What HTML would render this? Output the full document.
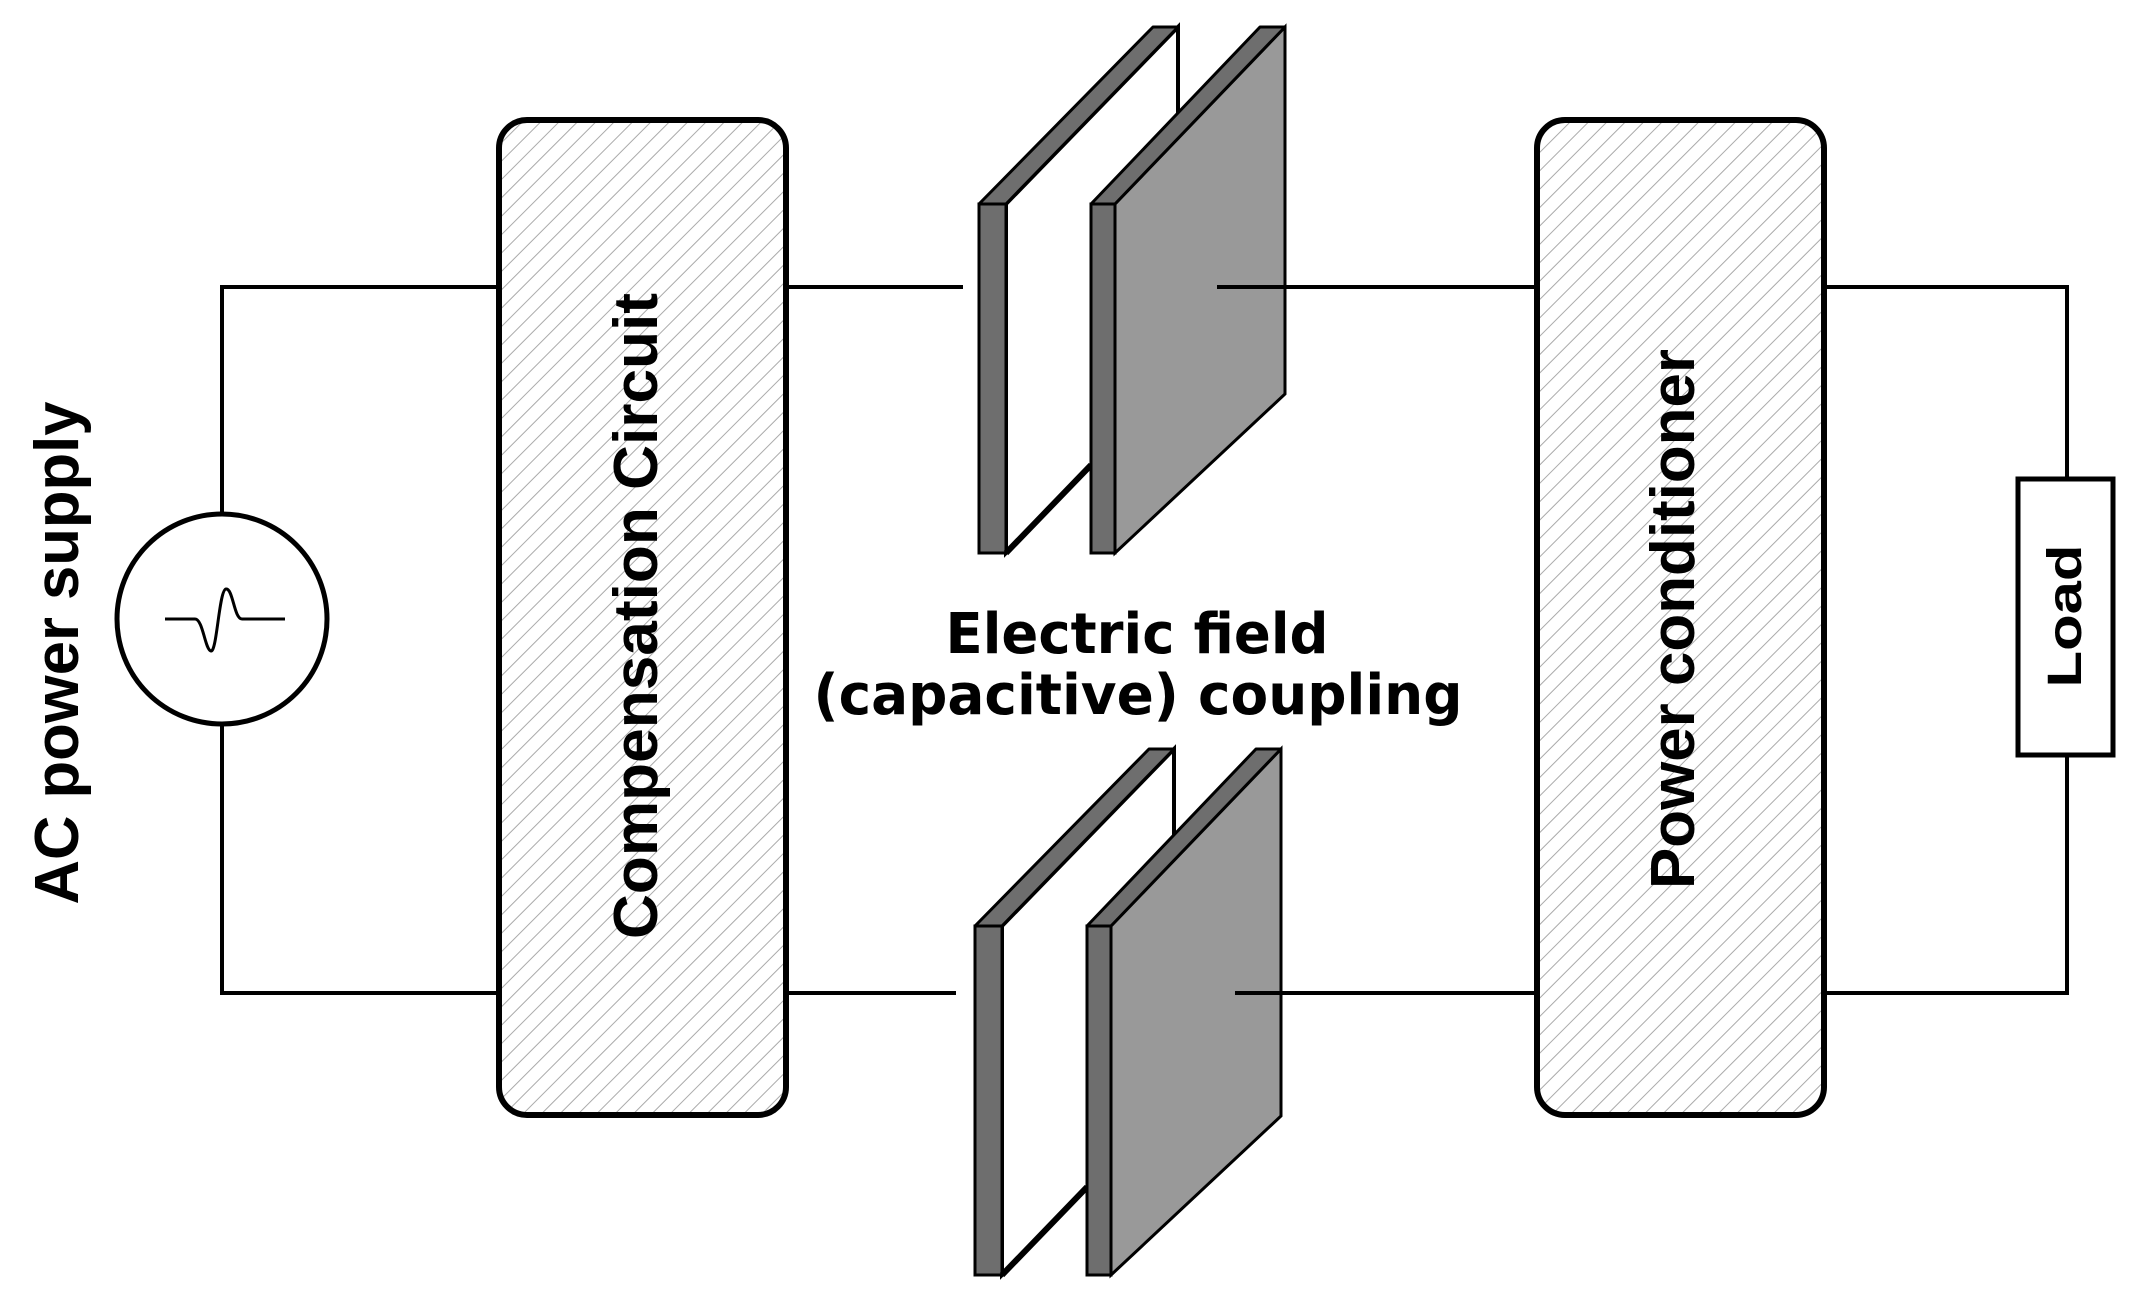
<!DOCTYPE html>
<html><head><meta charset="utf-8"><style>
html,body{margin:0;padding:0;background:#fff;}
svg{display:block;}
</style></head><body>
<svg width="2132" height="1299" viewBox="0 0 2132 1299" xmlns="http://www.w3.org/2000/svg">
<defs>
<pattern id="h" patternUnits="userSpaceOnUse" width="13" height="13" patternTransform="rotate(45)">
<rect width="13" height="13" fill="#fff"/>
<line x1="0" y1="0" x2="0" y2="13" stroke="#aaa" stroke-width="2"/>
</pattern>
<g id="cap">
  <polygon points="1006,204 1178,27 1178,376 1006,553" fill="#fff" stroke="#000" stroke-width="4"/>
  <polygon points="979,204 1006,204 1178,27 1153,27" fill="#6e6e6e" stroke="#000" stroke-width="3" stroke-linejoin="round"/>
  <rect x="979" y="204" width="27" height="349" fill="#6e6e6e" stroke="#000" stroke-width="3"/>
  <line x1="1006" y1="553" x2="1091" y2="465" stroke="#000" stroke-width="6"/>
  <polygon points="1115,204 1285,27 1285,394 1115,553" fill="#999" stroke="#000" stroke-width="3"/>
  <polygon points="1091,204 1115,204 1285,27 1260,27" fill="#6e6e6e" stroke="#000" stroke-width="3" stroke-linejoin="round"/>
  <rect x="1091" y="204" width="24" height="349" fill="#6e6e6e" stroke="#000" stroke-width="3"/>
</g>
</defs>
<g stroke="#000" stroke-width="4" fill="none">
  <polyline points="499,287 222,287 222,514"/>
  <polyline points="222,724 222,993 499,993"/>
  <line x1="786" y1="287" x2="963" y2="287"/>
  <line x1="786" y1="993" x2="956" y2="993"/>
  <polyline points="1824,287 2067,287 2067,479"/>
  <polyline points="2067,755 2067,993 1824,993"/>
</g>
<circle cx="222" cy="619" r="105" fill="#fff" stroke="#000" stroke-width="5"/>
<path d="M165,619 L195,619 C203,619 205,650 211,651 C217,652 219,590 226,589 C233,588 234,619 242,619 L285,619" fill="none" stroke="#000" stroke-width="3"/>
<rect x="499" y="120" width="287" height="995" rx="28" fill="url(#h)" stroke="#000" stroke-width="6"/>
<rect x="1537" y="120" width="287" height="995" rx="28" fill="url(#h)" stroke="#000" stroke-width="6"/>
<rect x="2018" y="479" width="95" height="276" fill="#fff" stroke="#000" stroke-width="5"/>
<use href="#cap"/>
<use href="#cap" transform="translate(-4,722)"/>
<line x1="1217" y1="287" x2="1537" y2="287" stroke="#000" stroke-width="4"/>
<line x1="1235" y1="993" x2="1537" y2="993" stroke="#000" stroke-width="4"/>
<g font-family="Liberation Sans, sans-serif" font-weight="bold" fill="#000" text-anchor="middle">
<text transform="translate(78,653) rotate(-90)" font-size="62" textLength="503" lengthAdjust="spacingAndGlyphs">AC power supply</text>
<text transform="translate(657,616) rotate(-90)" font-size="62" textLength="646" lengthAdjust="spacingAndGlyphs">Compensation Circuit</text>
<text transform="translate(1694,619) rotate(-90)" font-size="62" textLength="540" lengthAdjust="spacingAndGlyphs">Power conditioner</text>
<text transform="translate(2081,616) rotate(-90)" font-size="48" textLength="143" lengthAdjust="spacingAndGlyphs">Load</text>
</g>
<g font-family="DejaVu Sans, Liberation Sans, sans-serif" font-weight="bold" fill="#000" text-anchor="middle" font-size="56">
<text x="1137" y="653" textLength="383" lengthAdjust="spacingAndGlyphs">Electric field</text>
<text x="1138" y="714" textLength="649" lengthAdjust="spacingAndGlyphs">(capacitive) coupling</text>
</g>
</svg>
</body></html>
